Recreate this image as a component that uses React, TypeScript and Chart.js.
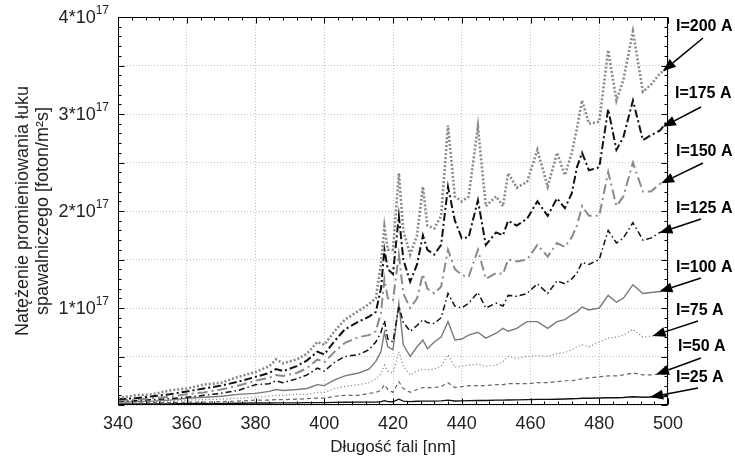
import React, { useEffect, useRef } from 'react';
import { Chart, registerables } from 'chart.js';

Chart.register(...registerables);

// Wavelength [nm]
const wavelengths = [
  340, 345, 350, 355, 360, 365, 370, 375, 380, 384,
  386, 388, 392, 395, 398, 400, 403, 406, 410, 413,
  415, 416.5, 417.5, 418.5, 420, 421.7, 423, 425, 427, 428.7,
  430, 432, 434, 436, 438, 440, 442, 444.7, 447, 450,
  452, 453.5, 456, 459, 462, 465, 467.7, 470, 472, 473.5,
  475, 477, 480, 482.6, 485, 487, 489.8, 492.7, 495, 497.7,
  500,
];

// Intensity in units of 10^17 foton/m^2s
const i200 = [
  0.07, 0.10, 0.11, 0.15, 0.17, 0.21, 0.23, 0.29, 0.34, 0.40,
  0.47, 0.43, 0.47, 0.53, 0.65, 0.62, 0.76, 0.88, 0.97, 1.04,
  1.10, 1.45, 1.84, 1.60, 1.60, 2.39, 1.80, 1.55, 1.75, 2.25,
  1.85, 1.82, 1.95, 2.88, 2.15, 2.10, 2.15, 2.87, 2.05, 2.15,
  2.05, 2.39, 2.24, 2.30, 2.63, 2.25, 2.60, 2.37, 2.60, 2.85,
  3.14, 2.90, 2.92, 3.66, 3.14, 3.35, 3.85, 3.23, 3.30, 3.42,
  3.48,
];
const i175 = [
  0.06, 0.07, 0.09, 0.11, 0.14, 0.17, 0.20, 0.24, 0.29, 0.33,
  0.37, 0.35, 0.40, 0.46, 0.55, 0.52, 0.66, 0.78, 0.86, 0.91,
  0.96, 1.20, 1.60, 1.40, 1.35, 1.95, 1.50, 1.27, 1.45, 1.75,
  1.60, 1.55, 1.65, 2.25, 1.90, 1.72, 1.73, 2.11, 1.65, 1.78,
  1.75, 1.90, 1.85, 1.92, 2.10, 1.95, 2.13, 2.03, 2.18, 2.45,
  2.60, 2.42, 2.45, 3.05, 2.63, 2.76, 3.14, 2.73, 2.78, 2.83,
  2.94,
];
const i150 = [
  0.05, 0.055, 0.07, 0.085, 0.11, 0.13, 0.16, 0.20, 0.25, 0.28,
  0.31, 0.30, 0.33, 0.38, 0.47, 0.44, 0.55, 0.64, 0.70, 0.72,
  0.76, 0.95, 1.30, 1.10, 1.08, 1.55, 1.15, 1.00, 1.10, 1.35,
  1.20, 1.15, 1.22, 1.60, 1.40, 1.34, 1.32, 1.60, 1.30, 1.36,
  1.35, 1.50, 1.48, 1.50, 1.65, 1.53, 1.67, 1.63, 1.73, 1.85,
  2.05, 1.95, 1.95, 2.40, 2.05, 2.15, 2.50, 2.20, 2.20, 2.28,
  2.32,
];
const i125 = [
  0.04, 0.045, 0.055, 0.065, 0.08, 0.10, 0.12, 0.15, 0.21, 0.22,
  0.25, 0.23, 0.27, 0.31, 0.38, 0.35, 0.44, 0.50, 0.52, 0.57,
  0.65, 0.75, 0.87, 0.68, 0.65, 1.02, 0.85, 0.76, 0.82, 0.88,
  0.85, 0.84, 0.90, 1.15, 1.02, 1.00, 1.05, 1.16, 1.00, 1.05,
  1.02, 1.13, 1.12, 1.15, 1.25, 1.15, 1.28, 1.25, 1.30, 1.36,
  1.47, 1.45, 1.50, 1.80, 1.67, 1.72, 1.88, 1.70, 1.72, 1.78,
  1.80,
];
const i100 = [
  0.03, 0.035, 0.04, 0.05, 0.07, 0.08, 0.09, 0.11, 0.12, 0.14,
  0.16, 0.15, 0.16, 0.17, 0.21, 0.20, 0.26, 0.30, 0.33, 0.37,
  0.45, 0.55, 0.75, 0.60, 0.57, 1.05, 0.62, 0.50, 0.60, 0.67,
  0.58, 0.65, 0.70, 0.86, 0.67, 0.68, 0.72, 0.75, 0.69, 0.74,
  0.79, 0.76, 0.79, 0.86, 0.86, 0.79, 0.86, 0.88, 0.93, 0.96,
  1.01, 0.98, 1.00, 1.13, 1.06, 1.10, 1.24, 1.15, 1.16, 1.17,
  1.20,
];
const i75 = [
  0.025, 0.03, 0.035, 0.04, 0.05, 0.055, 0.06, 0.07, 0.08, 0.09,
  0.10, 0.10, 0.11, 0.11, 0.13, 0.13, 0.17, 0.19, 0.21, 0.23,
  0.27, 0.32, 0.41, 0.35, 0.33, 0.55, 0.40, 0.31, 0.35, 0.37,
  0.36, 0.37, 0.40, 0.52, 0.39, 0.40, 0.41, 0.42, 0.40, 0.41,
  0.45, 0.50, 0.48, 0.50, 0.51, 0.50, 0.53, 0.54, 0.57, 0.60,
  0.62, 0.60, 0.65, 0.69, 0.70, 0.72, 0.78, 0.70, 0.71, 0.72,
  0.73,
];
const i50 = [
  0.02, 0.02, 0.025, 0.025, 0.03, 0.03, 0.035, 0.04, 0.05, 0.05,
  0.055, 0.055, 0.06, 0.065, 0.07, 0.07, 0.09, 0.10, 0.10, 0.12,
  0.13, 0.15, 0.21, 0.16, 0.13, 0.24, 0.17, 0.13, 0.16, 0.18,
  0.18, 0.18, 0.19, 0.23, 0.18, 0.19, 0.20, 0.20, 0.20, 0.21,
  0.21, 0.22, 0.22, 0.22, 0.23, 0.23, 0.24, 0.25, 0.25, 0.26,
  0.27, 0.28, 0.29, 0.30, 0.30, 0.31, 0.33, 0.31, 0.31, 0.32,
  0.32,
];
const i25 = [
  0.01, 0.01, 0.01, 0.012, 0.015, 0.015, 0.017, 0.018, 0.02, 0.02,
  0.022, 0.022, 0.022, 0.024, 0.025, 0.025, 0.027, 0.028, 0.03, 0.03,
  0.03, 0.035, 0.045, 0.035, 0.033, 0.06, 0.04, 0.035, 0.038, 0.04,
  0.04, 0.04, 0.042, 0.05, 0.042, 0.043, 0.045, 0.048, 0.046, 0.05,
  0.05, 0.052, 0.053, 0.055, 0.058, 0.058, 0.06, 0.062, 0.065, 0.066,
  0.07, 0.07, 0.072, 0.075, 0.075, 0.078, 0.085, 0.08, 0.082, 0.085,
  0.09,
];

const seriesNames = ['I=200 A', 'I=175 A', 'I=150 A', 'I=125 A', 'I=100 A', 'I=75 A', 'I=50 A', 'I=25 A'];
const seriesValues = [i200, i175, i150, i125, i100, i75, i50, i25];

// Axis ticks
const xMin = 340;
const xMax = 500;
const xStep = 20;
const yMin = 0;
const yMax = 4;
const yLabelValues = [1, 2, 3, 4];
const yLabelBase = ['1*10', '2*10', '3*10', '4*10'];
const yLabelExp = '17';
const xTitle = 'Długość fali [nm]';
const yTitle = ['Natężenie promieniowania łuku', 'spawalniczego [foton/m²s]'];

// Arrow tip wavelengths (where each label's arrow points on its curve)
const arrowTipNm = [498.5, 498.5, 498, 497.5, 497.5, 495.5, 496.5, 494.8];

// Styles
const lineColors = ['#8a8a8a', '#111111', '#8a8a8a', '#111111', '#7a7a7a', '#777777', '#666666', '#111111'];
const lineWidths = [2.6, 2, 2, 1.5, 1.4, 1.2, 1.2, 1.4];
const lineDashes = [[2, 2], [8, 3, 2, 3], [10, 4, 2, 4], [6, 3, 1.5, 3], [], [1, 2.5], [4, 3], []];
const labelCenterY = [27, 94, 152, 209, 268, 311, 347, 378];
const labelLeftX = [676, 675, 676, 676, 676, 676, 678, 676];
const arrowStart = [[703, 38], [701, 107], [703, 163], [701, 219], [701, 278], [698, 321], [701, 358], [698, 388]];

const FONT = '"Liberation Sans", Arial, Helvetica, sans-serif';

function interp(xs: number[], ys: number[], v: number) {
  for (let i = 0; i < xs.length - 1; i++) {
    if (v >= xs[i] && v <= xs[i + 1]) {
      const t = (v - xs[i]) / (xs[i + 1] - xs[i]);
      return ys[i] + t * (ys[i + 1] - ys[i]);
    }
  }
  return ys[ys.length - 1];
}

const decorPlugin = {
  id: 'decor',
  afterDraw(chart: any) {
    const { ctx, chartArea: a, scales } = chart;
    const x = scales.x;
    const y = scales.y;
    ctx.save();
    ctx.strokeStyle = '#000';
    ctx.lineWidth = 1;
    ctx.setLineDash([]);
    const L = Math.round(a.left) + 0.5;
    const R = Math.round(a.right) - 0.5;
    const T = Math.round(a.top) + 0.5;
    const B = Math.round(a.bottom) - 0.5;
    ctx.strokeRect(L, T, R - L, B - T);

    // inward ticks
    ctx.beginPath();
    for (let v = xMin; v <= xMax + 1e-6; v += 4) {
      const px = Math.round(x.getPixelForValue(v)) + 0.5;
      const len = (v - xMin) % 20 === 0 ? 6 : 3;
      ctx.moveTo(px, B);
      ctx.lineTo(px, B - len);
      ctx.moveTo(px, T);
      ctx.lineTo(px, T + len);
    }
    for (let k = 0; k <= 40; k++) {
      const v = k / 10;
      const py = Math.round(y.getPixelForValue(v)) + 0.5;
      const len = k % 5 === 0 ? 6 : 3;
      ctx.moveTo(L, py);
      ctx.lineTo(L + len, py);
      ctx.moveTo(R, py);
      ctx.lineTo(R - len, py);
    }
    ctx.stroke();

    // y tick labels with superscript exponent
    ctx.fillStyle = '#222';
    ctx.textBaseline = 'middle';
    yLabelValues.forEach((v, i) => {
      const py = y.getPixelForValue(v);
      ctx.font = `12px ${FONT}`;
      const wExp = ctx.measureText(yLabelExp).width;
      const right = a.left - 9;
      ctx.textAlign = 'left';
      ctx.fillText(yLabelExp, right - wExp, py - 6);
      ctx.font = `18px ${FONT}`;
      ctx.textAlign = 'right';
      ctx.fillText(yLabelBase[i], right - wExp, py + 1);
    });

    // series labels and arrows
    ctx.fillStyle = '#000';
    ctx.strokeStyle = '#000';
    ctx.font = `bold 16px ${FONT}`;
    ctx.textAlign = 'left';
    ctx.textBaseline = 'middle';
    seriesNames.forEach((name, i) => {
      ctx.fillText(name, labelLeftX[i], labelCenterY[i]);
      const tx = x.getPixelForValue(arrowTipNm[i]);
      const ty = y.getPixelForValue(interp(wavelengths, seriesValues[i], arrowTipNm[i]));
      const [sx, sy] = arrowStart[i];
      const ang = Math.atan2(ty - sy, tx - sx);
      const head = 13;
      const hw = 5;
      const bx = tx - head * Math.cos(ang);
      const by = ty - head * Math.sin(ang);
      ctx.lineWidth = 1.5;
      ctx.beginPath();
      ctx.moveTo(sx, sy);
      ctx.lineTo(bx, by);
      ctx.stroke();
      ctx.beginPath();
      ctx.moveTo(tx, ty);
      ctx.lineTo(bx + hw * Math.sin(ang), by - hw * Math.cos(ang));
      ctx.lineTo(bx - hw * Math.sin(ang), by + hw * Math.cos(ang));
      ctx.closePath();
      ctx.fill();
    });
    ctx.restore();
  },
};

export default function App() {
  const ref = useRef<HTMLCanvasElement>(null);
  useEffect(() => {
    const canvas = ref.current;
    if (!canvas) return;
    Chart.defaults.font.family = FONT;
    const datasets = seriesNames.map((name, i) => ({
      label: name,
      data: wavelengths.map((w, j) => ({ x: w, y: seriesValues[i][j] })),
      borderColor: lineColors[i],
      backgroundColor: lineColors[i],
      borderWidth: lineWidths[i],
      borderDash: lineDashes[i],
      pointRadius: 0,
      fill: false,
      tension: 0,
    }));
    const chart = new Chart(canvas, {
      type: 'line',
      data: { datasets },
      options: {
        responsive: false,
        animation: false,
        devicePixelRatio: 1,
        layout: { padding: { top: 17, right: 67, left: 0, bottom: 0 } },
        plugins: { legend: { display: false }, tooltip: { enabled: false } },
        scales: {
          x: {
            type: 'linear',
            min: xMin,
            max: xMax,
            afterFit: (s: any) => { s.height = 55; },
            ticks: { stepSize: xStep, font: { size: 18 }, color: '#222', padding: 8, maxRotation: 0 },
            grid: { color: '#c4c4c4', lineWidth: 1, drawTicks: false },
            border: { display: false, dash: [1, 2] },
            title: { display: true, text: xTitle, font: { size: 17 }, color: '#222', padding: { top: 0, bottom: 2 } },
          },
          y: {
            type: 'linear',
            min: yMin,
            max: yMax,
            afterFit: (s: any) => { s.width = 118; },
            ticks: { stepSize: 0.5, display: false },
            grid: { color: '#c4c4c4', lineWidth: 1, drawTicks: false },
            border: { display: false, dash: [1, 2] },
            title: { display: true, text: yTitle, font: { size: 18, lineHeight: 1.1 }, color: '#222', padding: { top: 13, bottom: 0 } },
          },
        },
      },
      plugins: [decorPlugin],
    });
    return () => chart.destroy();
  }, []);
  return (
    <div style={{ position: 'absolute', left: 0, top: 0, width: 735, height: 460, background: '#fff' }}>
      <canvas ref={ref} width={735} height={460} />
    </div>
  );
}
